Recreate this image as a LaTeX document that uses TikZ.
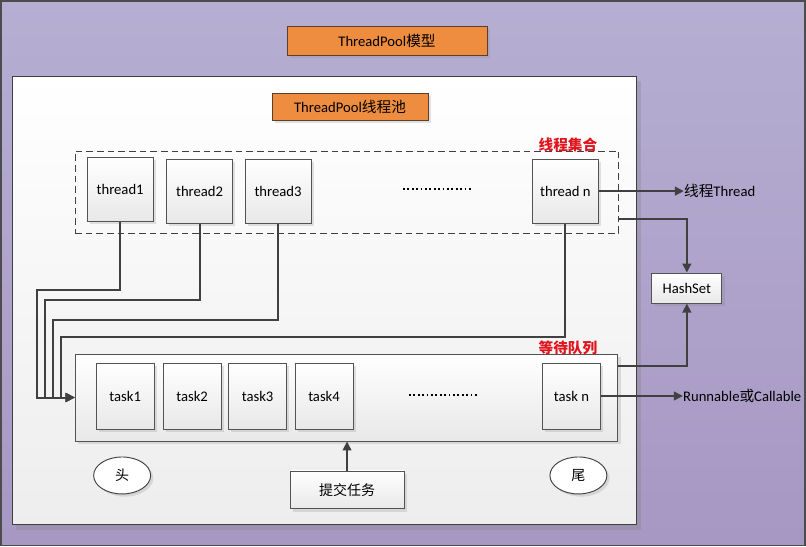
\documentclass[tikz,border=0pt]{standalone}
\usepackage{fontspec}
\setmainfont{Carlito}
\newfontfamily\cjk{Noto Sans CJK SC}
\usetikzlibrary{arrows.meta,shadows,shapes.geometric}
\definecolor{bgtop}{HTML}{B6AFD2}
\definecolor{bgbot}{HTML}{A797C3}
\definecolor{orng}{HTML}{EE8C3F}
\definecolor{orngd}{HTML}{5A3E2E}
\definecolor{conn}{HTML}{404040}
\definecolor{redlab}{HTML}{E0141E}
\tikzset{
  every node/.style={font=\fontsize{11}{13}\selectfont},
  shad/.style={drop shadow={shadow xshift=2pt,shadow yshift=-2pt,opacity=0.22}},
  obox/.style={draw=orngd,line width=0.6pt,fill=orng,shad,inner sep=0pt},
  wbox/.style={draw=conn!90,line width=0.7pt,top color=white,bottom color=black!9,shad,inner sep=0pt},
  tbox/.style={wbox,minimum width=49.5pt,minimum height=48pt},
  kbox/.style={wbox,minimum width=43.5pt,minimum height=49.5pt},
  ell/.style={ellipse,draw=conn,line width=0.7pt,fill=white,minimum width=42.75pt,minimum height=27.75pt,inner sep=0pt,shad},
  lnk/.style={draw=conn,line width=1.5pt},
  arr/.style={lnk,-{Triangle[length=6.75pt,width=6.5pt]}},
  redl/.style={text=redlab,font=\fontsize{11}{13}\selectfont\cjk\bfseries},
  dotl/.style={draw=black,line width=1.2pt,dash pattern=on 1.3pt off 2pt}
}
\begin{document}
\begin{tikzpicture}[x=0.75pt,y=-0.75pt]
% background
\shade[top color=bgtop,bottom color=bgbot] (0,0) rectangle (806,546);
\draw[black!70,line width=1.2pt] (0.6,0.6) rectangle (805.4,545.4);
% inner panel
\draw[draw=conn,line width=0.8pt,top color=white,bottom color=black!7,
  drop shadow={shadow xshift=3pt,shadow yshift=-4pt,opacity=0.3}] (12,76) rectangle (637,525);

% titles
\node[obox,minimum width=150pt,minimum height=21.75pt] (title) at (387,40.5) {ThreadPool{\cjk 模型}};
\node[obox,minimum width=117pt,minimum height=20.25pt] (pool) at (350,106.5) {ThreadPool{\cjk 线程池}};

% thread set
\node[draw=conn,line width=0.7pt,dashed,dash pattern=on 5pt off 3pt,fill=none,minimum width=408pt,minimum height=61.5pt,inner sep=0pt] (tset) at (347,192) {};
\node[redl] (tsetlab) at (568,145) {线程集合};
\node[tbox] (t1) at (120,189) {thread1};
\node[tbox] (t2) at (199.5,191) {thread2};
\node[tbox] (t3) at (278,191) {thread3};
\node[tbox] (tn) at (565.5,191) {thread n};
\coordinate (d1a) at (403,189);
\coordinate (d1b) at (472,189);
\draw[dotl] (d1a) -- (d1b);

% HashSet
\node[wbox,minimum width=52.5pt,minimum height=22.5pt] (hs) at (687,288) {HashSet};
\node[anchor=west,inner sep=0pt] (thrlab) at (684,191) {{\cjk 线程}Thread};
\node[anchor=west,inner sep=0pt] (runlab) at (683,396) {Runnable{\cjk 或}Callable};

% queue
\node[wbox,minimum width=407.25pt,minimum height=65.25pt] (queue) at (346.5,397.5) {};
\node[redl] (qlab) at (568,348) {等待队列};
\node[kbox] (k1) at (125,396) {task1};
\node[kbox] (k2) at (192,396) {task2};
\node[kbox] (k3) at (257.5,396) {task3};
\node[kbox] (k4) at (324,396) {task4};
\node[kbox] (kn) at (571.5,396) {task n};
\coordinate (d2a) at (409,395);
\coordinate (d2b) at (478,395);
\draw[dotl] (d2a) -- (d2b);

% head / tail / submit
\node[ell] (head) at (122,475.5) {\cjk\fontsize{10.5}{12}\selectfont 头};
\node[ell] (tail) at (578.5,475.5) {\cjk\fontsize{10.5}{12}\selectfont 尾};
\node[wbox,minimum width=85.5pt,minimum height=28.5pt] (submit) at (347,490) {\cjk\fontsize{10.5}{12}\selectfont 提交任务};

% connectors
\draw[arr] (tn.east) -- (tn.east -| thrlab.west);
\draw[arr] (kn.east) -- (kn.east -| runlab.west);
\draw[arr] ([yshift=11.25pt]tset.south east) -| (hs.north);
\draw[arr] ([yshift=-9pt]queue.north east) -| (hs.south);
\draw[arr] (submit.north) -- (submit.north |- queue.south);
\draw[arr] (t1.south) |- (37,290) |- (queue.west);
\draw[arr] (t2.south) |- (45,300) |- (queue.west);
\draw[arr] (t3.south) |- (53,320) |- (queue.west);
\draw[arr] (tn.south) |- (61,337) |- (queue.west);
\end{tikzpicture}
\end{document}
